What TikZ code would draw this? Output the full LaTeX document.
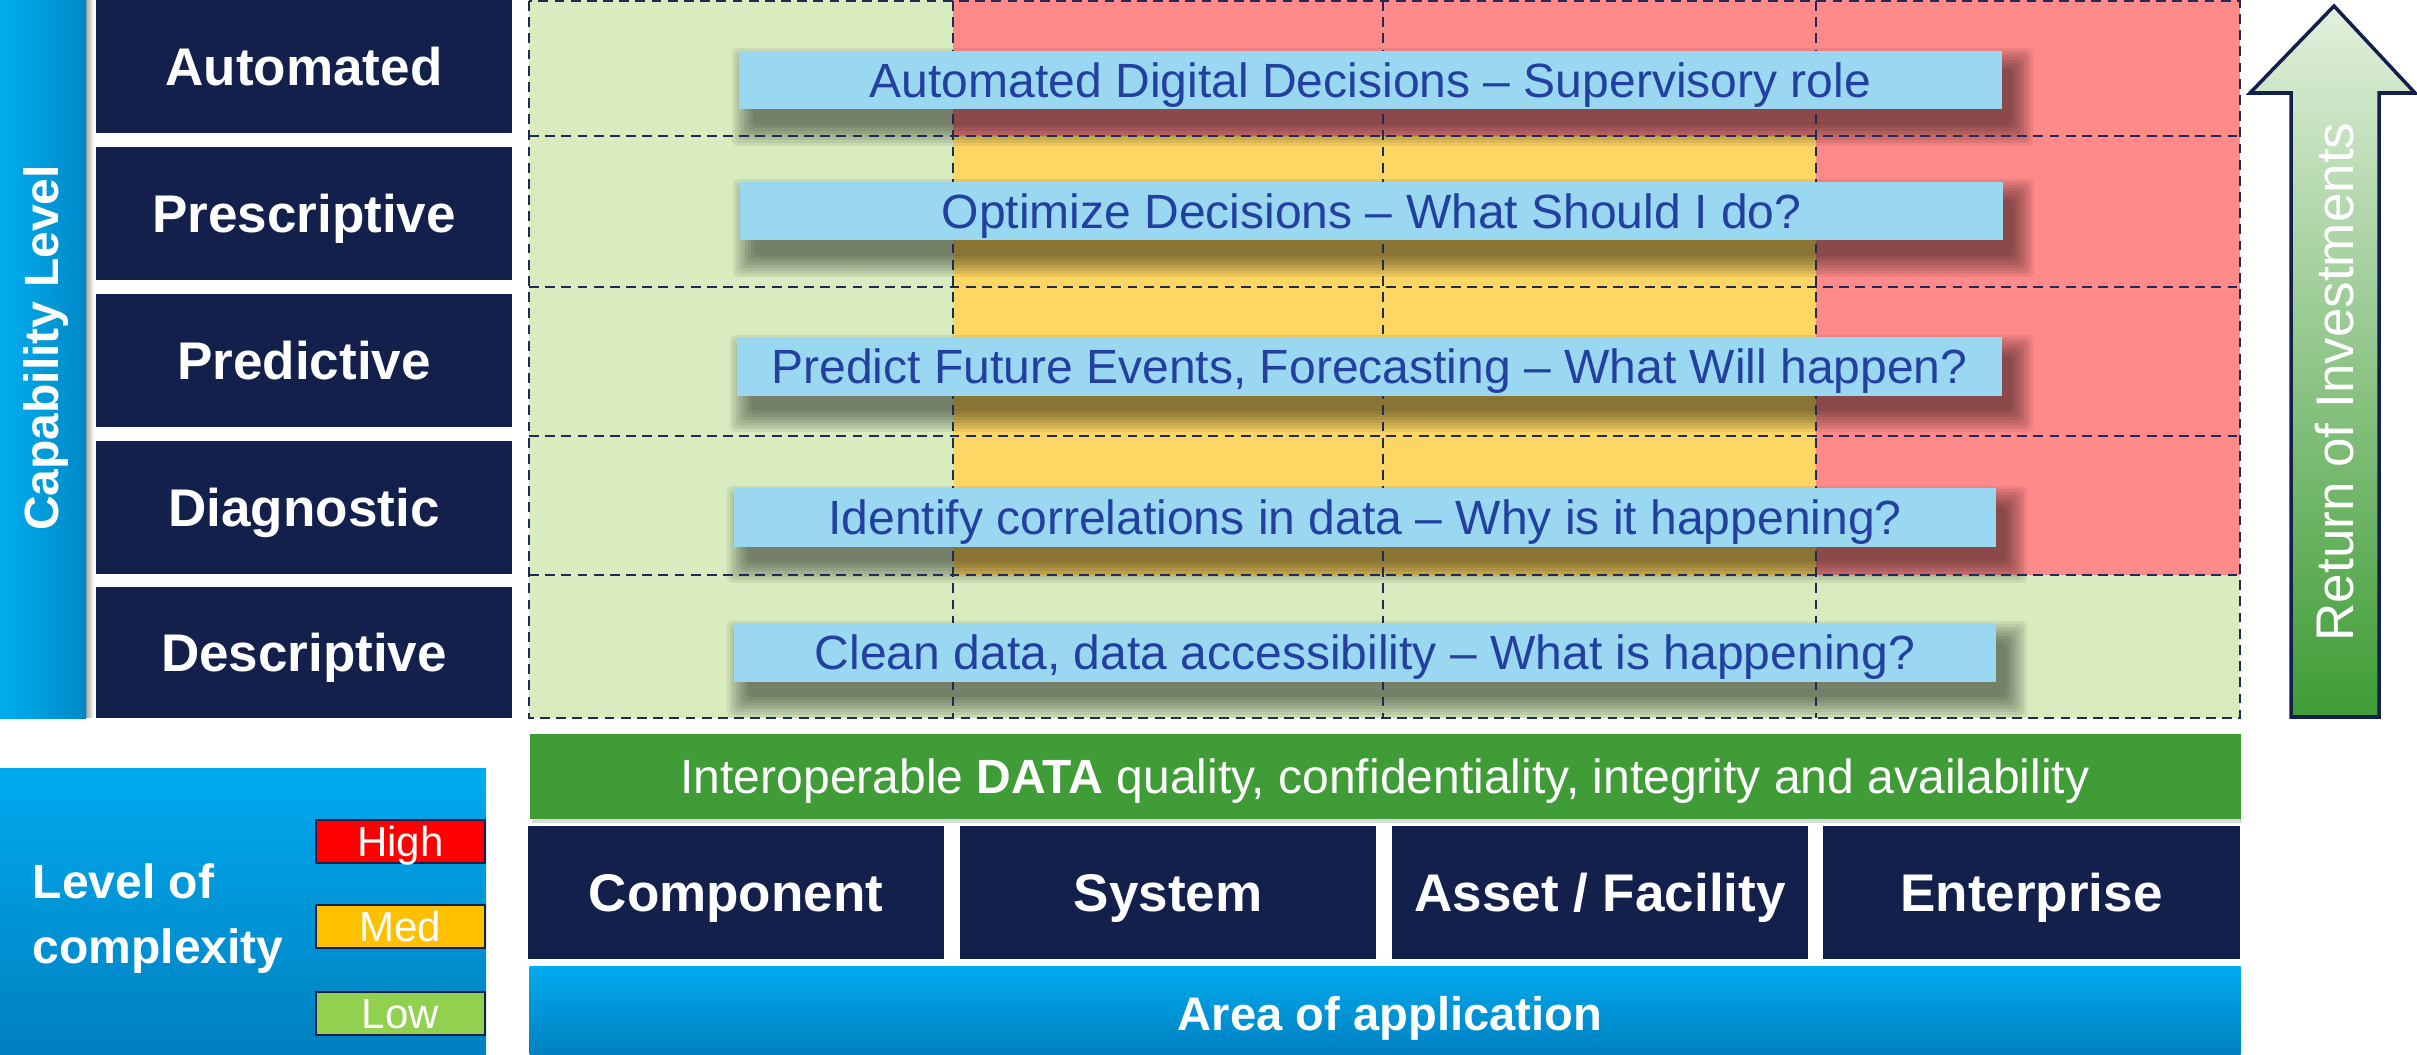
\documentclass[tikz,border=0pt]{standalone}
\usepackage{fontspec}
\setmainfont{Liberation Sans}
\definecolor{navy}{HTML}{12204B}
\definecolor{banfill}{HTML}{99D8F0}
\definecolor{bantext}{HTML}{2340A0}
\definecolor{cgreen}{HTML}{D8ECC0}
\definecolor{cred}{HTML}{FF8A8A}
\definecolor{cyellow}{HTML}{FDD663}
\definecolor{gridc}{HTML}{1F2A55}
\definecolor{databar}{HTML}{409C37}
\definecolor{cblueT}{HTML}{00AAEE}
\definecolor{cblueB}{HTML}{0080C0}
\definecolor{cblueL}{HTML}{00AEEF}
\definecolor{cblueR}{HTML}{0088C6}
\definecolor{lhigh}{HTML}{FF0000}
\definecolor{lmed}{HTML}{FFC000}
\definecolor{llow}{HTML}{92D050}
\definecolor{arrT}{HTML}{E2F0DC}
\definecolor{arrB}{HTML}{3E9C35}
\newcommand\fLbl{\fontsize{15.08pt}{18pt}\selectfont\bfseries}
\newcommand\fBan{\fontsize{13.66pt}{16pt}\selectfont}
\newcommand\fCapl{\fontsize{13.66pt}{16pt}\selectfont\bfseries}
\newcommand\fLeg{\fontsize{11.95pt}{14pt}\selectfont}
\newcommand\fArea{\fontsize{13.4pt}{16pt}\selectfont\bfseries}
\newcommand\fRet{\fontsize{15.08pt}{18pt}\selectfont}
\newcommand\bshadow[4]{%
  \foreach \r in {0,3,...,21}{\fill[black,opacity=0.07,rounded corners=0.05cm] (#1+14-\r,#2+18-\r) rectangle (#3+10+\r,#4+16+\r);}}
\begin{document}
\begin{tikzpicture}[x=0.01cm,y=-0.01cm,
  navybox/.style={fill=navy, text=white, font=\fLbl, inner sep=0pt, text height=0.38cm, text depth=0cm, minimum height=1.33cm, minimum width=4.16cm},
  banner/.style={fill=banfill, text=bantext, font=\fBan, inner sep=0pt, text height=0.344cm, text depth=0cm, minimum height=0.58cm},
  gridline/.style={draw=gridc, line width=0.7pt, dash pattern=on 2.8pt off 1.8pt},
  legbox/.style={draw=navy, line width=0.8pt, minimum width=1.69cm, minimum height=0.43cm, inner sep=0pt, text=white, font=\fLeg, text height=0.30cm, text depth=0cm},
  bluegrad/.style={top color=cblueT, bottom color=cblueB, inner sep=0pt}
]
\useasboundingbox (0,0) rectangle (2417,1055);

% ---- grid cells ----
\fill[cgreen] (529,0) rectangle (953,718);
\fill[cgreen] (953,575) rectangle (2240,718);
\fill[cred] (953,0) rectangle (2240,136);
\fill[cred] (1816,136) rectangle (2240,575);
\fill[cyellow] (953,136) rectangle (1816,575);

% ---- shadows of banners ----
\bshadow{739}{51}{2002}{109}
\bshadow{740}{182}{2003}{240}
\bshadow{737}{338}{2002}{395}
\bshadow{734}{489}{1996}{546}
\bshadow{734}{624}{1996}{681}

% ---- dashed grid ----
\draw[gridline] (529,1) rectangle (2240,718);
\foreach \gx in {953,1383,1816} \draw[gridline] (\gx,1) -- (\gx,718);
\foreach \gy in {136,287,436,575} \draw[gridline] (529,\gy) -- (2240,\gy);

% ---- banners ----
\node[banner, minimum width=12.63cm] (b1) at (1370.5,80) {Automated Digital Decisions – Supervisory role};
\node[banner, minimum width=12.63cm] (b2) at (1371.5,211) {Optimize Decisions – What Should I do?};
\node[banner, minimum width=12.65cm] (b3) at (1369.5,366.5) {Predict Future Events, Forecasting – What Will happen?};
\node[banner, minimum width=12.62cm] (b4) at (1365,517.5) {Identify correlations in data – Why is it happening?};
\node[banner, minimum width=12.62cm] (b5) at (1365,652.5) {Clean data, data accessibility – What is happening?};

% ---- capability bar ----
\shade[left color=black!35, right color=white] (86,0) rectangle (94,718);
\node[left color=cblueL, right color=cblueR, inner sep=0pt, minimum width=0.86cm, minimum height=7.18cm] (capbar) at (43,359) {};
\node[rotate=90, text=white, font=\fCapl] (captxt) at (46,348) {Capability Level};

% ---- level boxes ----
\node[navybox] (auto) at (304,66.5) {Automated};
\node[navybox] (presc) at (304,213.5) {Prescriptive};
\node[navybox] (pred) at (304,360.5) {Predictive};
\node[navybox] (diag) at (304,507.5) {Diagnostic};
\node[navybox, minimum height=1.31cm] (desc) at (304,652.5) {Descriptive};

% ---- data bar ----
\fill[black,opacity=0.15] (532,819) rectangle (2242,823);
\node[fill=databar, text=white, font=\fBan, inner sep=0pt, minimum width=17.1cm, minimum height=0.85cm, text height=0.344cm, text depth=0cm] (data) at (1385,776.5) {Interoperable \textbf{DATA} quality, confidentiality, integrity and availability};

% ---- area boxes ----
\node[navybox] (comp) at (736,892.5) {Component};
\node[navybox] (sys) at (1168,892.5) {System};
\node[navybox] (asset) at (1600,892.5) {Asset / Facility};
\node[navybox, minimum width=4.17cm] (ent) at (2031.5,892.5) {Enterprise};

\node[bluegrad, minimum width=17.1cm, minimum height=0.88cm] (areabar) at (1385,1011) {};
\node[text=white, font=\fArea, inner sep=0pt, text height=0.34cm, text depth=0cm] (areatxt) at (1390,1013) {Area of application};

% ---- complexity legend ----
\node[bluegrad, minimum width=4.86cm, minimum height=2.86cm] (lvl) at (243,912) {};
\node[anchor=base west, text=white, font=\fCapl, inner sep=0pt] (lvl1) at (32,899) {Level of};
\node[anchor=base west, text=white, font=\fCapl, inner sep=0pt] (lvl2) at (32,963) {complexity};
\node[legbox, fill=lhigh] (high) at (400.5,841.5) {High};
\node[legbox, fill=lmed] (med) at (400.5,926.5) {Med};
\node[legbox, fill=llow] (low) at (400.5,1013.5) {Low};

% ---- return arrow ----
\path[top color=arrT, bottom color=arrB, draw=navy, line width=1pt]
  (2334,6) -- (2415,93) -- (2379,93) -- (2379,717) -- (2291,717) -- (2291,93) -- (2250,93) -- cycle;
\node[rotate=90, text=white, font=\fRet] (roi) at (2335,382) {Return of Investments};
\end{tikzpicture}
\end{document}
